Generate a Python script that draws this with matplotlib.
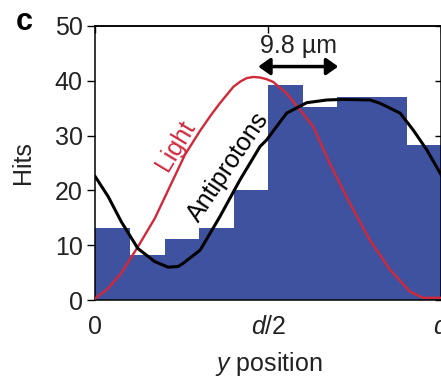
import numpy as np
import matplotlib
matplotlib.use("Agg")
import matplotlib.pyplot as plt

plt.rcParams['font.family'] = 'Liberation Sans'
plt.rcParams['mathtext.fontset'] = 'custom'
plt.rcParams['mathtext.it'] = 'Liberation Sans:italic'
plt.rcParams['mathtext.rm'] = 'Liberation Sans'

# Histogram of hits, 10 bins over one period d
bin_edges = [0.0, 0.1, 0.2, 0.3, 0.4, 0.5, 0.6, 0.7, 0.8, 0.9, 1.0]
hits = [13.1, 8.2, 11.1, 13.1, 20.1, 39.2, 35.3, 37.1, 37.1, 28.2]

# Light intensity curve
light_x = [0.000, 0.037, 0.075, 0.123, 0.172, 0.220, 0.259, 0.303, 0.335, 0.360,
           0.399, 0.420, 0.438, 0.457, 0.476, 0.495, 0.514, 0.553, 0.592, 0.630,
           0.678, 0.736, 0.794, 0.852, 0.910, 0.947, 1.000]
light_y = [0.3, 2.1, 4.9, 9.7, 14.9, 21.3, 26.5, 30.9, 33.8, 35.9,
           38.9, 39.9, 40.5, 40.7, 40.6, 40.3, 39.8, 37.7, 34.7, 31.6,
           24.9, 17.6, 10.9, 5.5, 1.5, 0.4, 0.4]

# Antiproton fit curve
pbar_x = [0.000, 0.037, 0.075, 0.123, 0.172, 0.210, 0.239, 0.254, 0.303, 0.332,
          0.360, 0.418, 0.476, 0.495, 0.553, 0.611, 0.669, 0.716, 0.794, 0.823,
          0.852, 0.881, 0.919, 0.958, 1.000]
pbar_y = [22.5, 18.9, 14.3, 9.4, 7.0, 6.0, 6.1, 6.7, 9.1, 12.2,
          15.2, 21.9, 28.0, 29.2, 34.1, 36.0, 36.5, 36.6, 36.5, 35.9,
          35.0, 34.1, 31.0, 27.4, 22.8]

yticks = [0, 10, 20, 30, 40, 50]
xticks = [0, 0.5, 1]
xticklabels = ['0', '$d$/2', '$d$']

fig = plt.figure(figsize=(4.41, 3.77), dpi=100)
ax = fig.add_axes([95.3 / 441, 1 - 300 / 377, 346 / 441, 274 / 377])

ax.stairs(hits, bin_edges, fill=True, color='#3F52A0', baseline=0, zorder=1)
ax.plot(light_x, light_y, color='#D1283A', lw=1.7, zorder=3)
ax.plot(pbar_x, pbar_y, color='black', lw=2.2, zorder=4)

ax.set_xlim(0, 1)
ax.set_ylim(0, 50)
ax.set_yticks(yticks)
ax.set_xticks(xticks)
ax.set_xticklabels(xticklabels)
ax.tick_params(axis='y', direction='out', length=6, width=1, pad=3,
               labelsize=18, right=False, labelcolor='#222222')
ax.tick_params(axis='x', length=0, pad=11, labelsize=18, top=False,
               labelcolor='#222222')
for s in ax.spines.values():
    s.set_linewidth(1.1)

# inward ticks on top and right
top = ax.secondary_xaxis('top')
top.set_xticks(xticks)
top.tick_params(direction='in', length=5, width=1, labeltop=False)
top.spines['top'].set_linewidth(1.1)
right = ax.secondary_yaxis('right')
right.set_yticks(yticks)
right.tick_params(direction='in', length=4, width=1, labelright=False)

ax.set_ylabel('Hits', fontsize=18, labelpad=14, color='#222222')
ax.set_xlabel('$y$ position', fontsize=18, labelpad=8, color='#222222')

ax.text(0.232, 28.2, 'Light', color='#D1283A', fontsize=18, rotation=59,
        ha='center', va='center', rotation_mode='anchor')
ax.text(0.385, 24.2, 'Antiprotons', color='black', fontsize=18, rotation=56,
        ha='center', va='center', rotation_mode='anchor')

ax.annotate('', xy=(0.471, 42.6), xytext=(0.702, 42.6),
            arrowprops=dict(arrowstyle='<|-|>,head_length=0.35,head_width=0.25',
                            mutation_scale=20, lw=2.5, color='black',
                            shrinkA=0, shrinkB=0))
ax.text(0.587, 46.4, '9.8 µm', fontsize=18, ha='center', va='center',
        color='#222222')

fig.text(24 / 441, 1 - 22 / 377, 'c', fontsize=22, fontweight='bold',
         ha='center', va='center')

fig.savefig('out.png', dpi=100)
